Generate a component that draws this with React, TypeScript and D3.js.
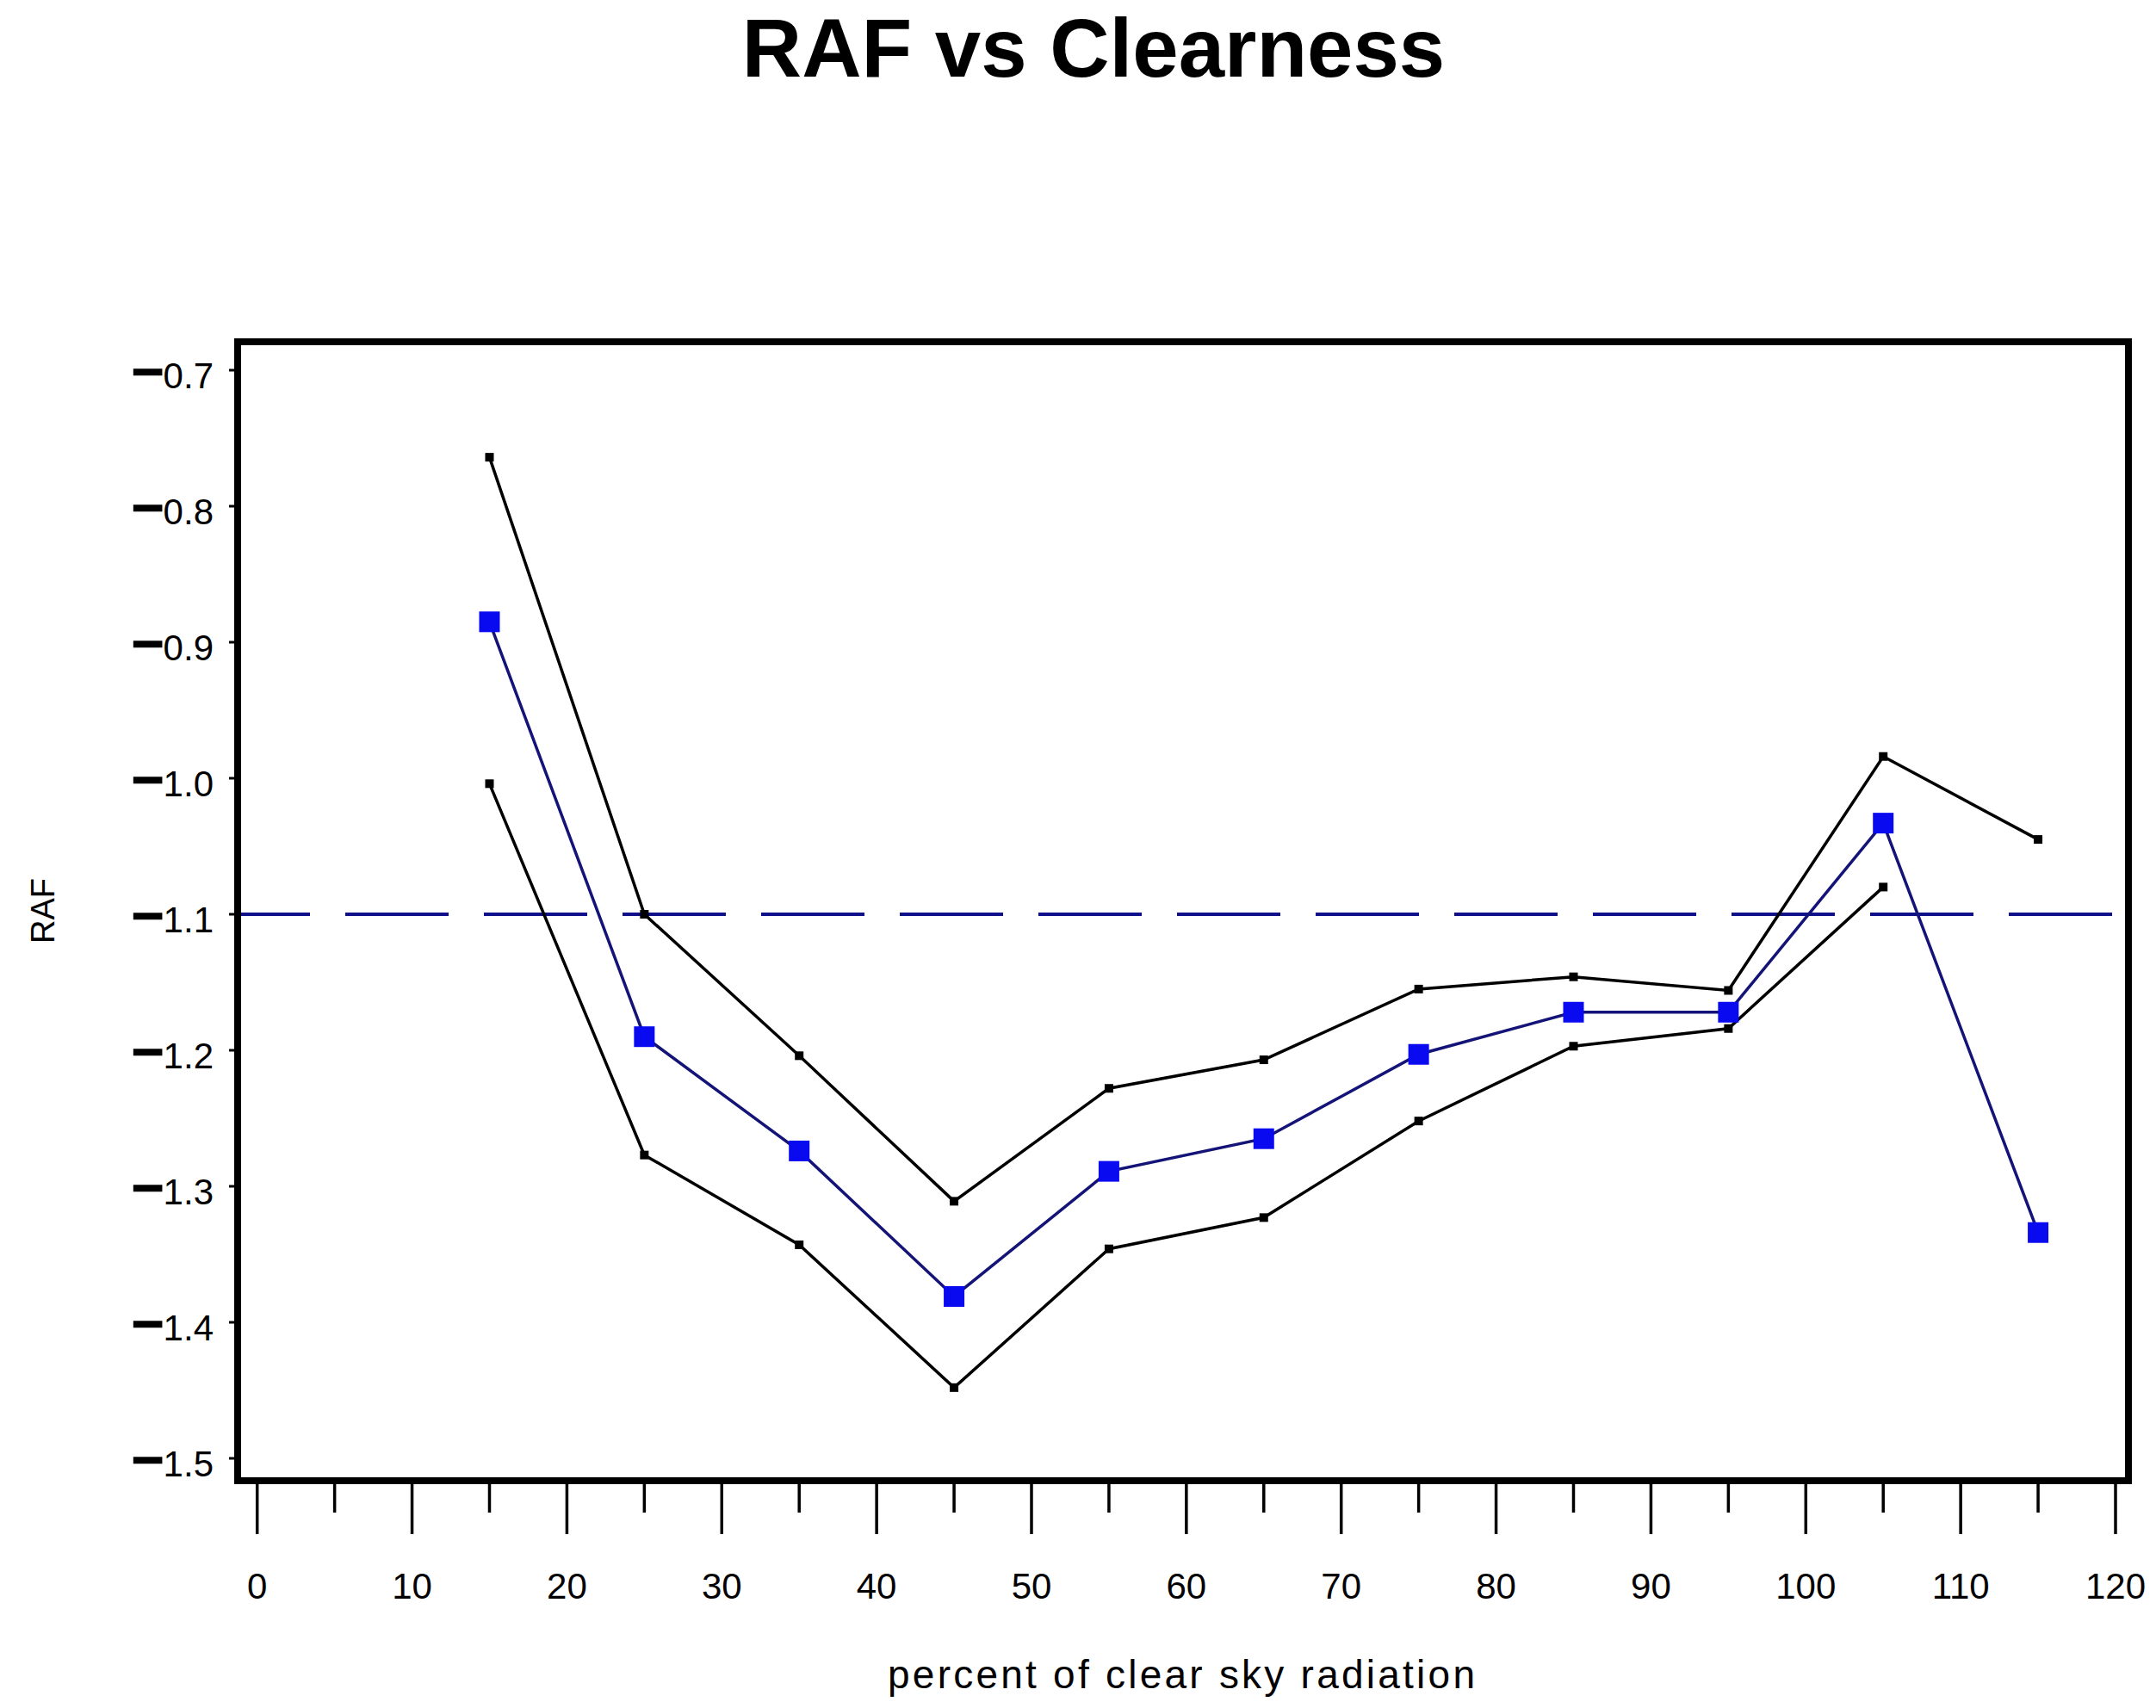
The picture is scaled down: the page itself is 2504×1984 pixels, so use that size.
import React from "react";
import * as d3 from "d3";

const xValues = [15, 25, 35, 45, 55, 65, 75, 85, 95, 105, 115];
const meanRAF = [-0.885, -1.19, -1.274, -1.381, -1.289, -1.265, -1.203, -1.172, -1.172, -1.033, -1.334];
const upperRAF = [-0.764, -1.1, -1.204, -1.311, -1.228, -1.207, -1.155, -1.146, -1.156, -0.984, -1.045];
const lowerRAF: (number | null)[] = [-1.004, -1.277, -1.343, -1.448, -1.346, -1.323, -1.252, -1.197, -1.184, -1.08, null];
const xMajorTicks = [0, 10, 20, 30, 40, 50, 60, 70, 80, 90, 100, 110, 120];
const xMinorTicks = [5, 15, 25, 35, 45, 55, 65, 75, 85, 95, 105, 115];
const yTicks = [-0.7, -0.8, -0.9, -1.0, -1.1, -1.2, -1.3, -1.4, -1.5];
const referenceLevel = -1.1;
const titleText = "RAF vs Clearness";
const xTitle = "percent of clear sky radiation";
const yTitle = "RAF";

const W = 2504;
const H = 1984;
const frame = { left: 276, right: 2472, top: 397, bottom: 1720 };
const FONT = "'Liberation Sans', Arial, Helvetica, sans-serif";

export default function App() {
  const x = d3.scaleLinear().domain([0, 120]).range([298.7, 2457]);
  const y = d3.scaleLinear().domain([-1.5, -0.7]).range([1694, 430]);

  type P = [number, number | null];
  const line = d3
    .line<P>()
    .defined((d) => d[1] !== null)
    .x((d) => x(d[0]))
    .y((d) => y(d[1] as number));

  const meanPts: P[] = xValues.map((v, i) => [v, meanRAF[i]]);
  const upPts: P[] = xValues.map((v, i) => [v, upperRAF[i]]);
  const loPts: P[] = xValues.map((v, i) => [v, lowerRAF[i]]);
  const fmt = d3.format(".1f");

  const blueSq = 24;
  const blackSq = 10;

  return (
    <div style={{ position: "absolute", left: 0, top: 0 }}>
      <svg width={W} height={H} style={{ display: "block", background: "#fff" }}>
        <rect x={0} y={0} width={W} height={H} fill="#fff" />
        {/* title */}
        <text x={1270} y={89} textAnchor="middle" fontFamily={FONT} fontWeight="bold" fontSize={96} fill="#000">
          {titleText}
        </text>

        {/* reference dashed line */}
        <line
          x1={frame.left}
          x2={frame.right}
          y1={y(referenceLevel)}
          y2={y(referenceLevel)}
          stroke="#10108a"
          strokeWidth={4}
          strokeDasharray="120 41"
          strokeDashoffset={36}
        />

        {/* band lines */}
        <path d={line(upPts) || ""} fill="none" stroke="#000" strokeWidth={3.5} />
        <path d={line(loPts) || ""} fill="none" stroke="#000" strokeWidth={3.5} />
        <path d={line(meanPts) || ""} fill="none" stroke="#141478" strokeWidth={3.5} />

        {upPts.map((d, i) => (
          <rect key={"u" + i} x={x(d[0]) - blackSq / 2} y={y(d[1] as number) - blackSq / 2} width={blackSq} height={blackSq} fill="#000" />
        ))}
        {loPts
          .filter((d) => d[1] !== null)
          .map((d, i) => (
            <rect key={"l" + i} x={x(d[0]) - blackSq / 2} y={y(d[1] as number) - blackSq / 2} width={blackSq} height={blackSq} fill="#000" />
          ))}
        {meanPts.map((d, i) => (
          <rect key={"m" + i} x={x(d[0]) - blueSq / 2} y={y(d[1] as number) - blueSq / 2} width={blueSq} height={blueSq} fill="#0a0af0" />
        ))}

        {/* frame */}
        <rect
          x={frame.left}
          y={frame.top}
          width={frame.right - frame.left}
          height={frame.bottom - frame.top}
          fill="none"
          stroke="#000"
          strokeWidth={8}
        />

        {/* y ticks */}
        {yTicks.map((t) => {
          const s = fmt(t);
          const neg = s.startsWith("−") || s.startsWith("-");
          const body = neg ? s.slice(1) : s;
          return (
            <g key={"y" + t}>
              <line x1={frame.left - 10} x2={frame.left} y1={y(t)} y2={y(t)} stroke="#000" strokeWidth={3} />
              <text x={248} y={y(t) + 21} textAnchor="end" fontFamily={FONT} fontSize={42} fill="#000">
                {neg ? (
                  <tspan fontSize={62} stroke="#000" strokeWidth={3.5} dy={2}>
                    −
                  </tspan>
                ) : null}
                <tspan dy={neg ? -2 : 0}>{body}</tspan>
              </text>
            </g>
          );
        })}

        {/* x ticks */}
        {xMajorTicks.map((t) => (
          <g key={"x" + t}>
            <line x1={x(t)} x2={x(t)} y1={frame.bottom + 4} y2={1782} stroke="#000" strokeWidth={3.5} />
            <text x={x(t)} y={1857} textAnchor="middle" fontFamily={FONT} fontSize={42} fill="#000">
              {t}
            </text>
          </g>
        ))}
        {xMinorTicks.map((t) => (
          <line key={"xm" + t} x1={x(t)} x2={x(t)} y1={frame.bottom + 4} y2={1757} stroke="#000" strokeWidth={3.5} />
        ))}

        {/* axis titles */}
        <text
          x={1372}
          y={1961}
          textAnchor="middle"
          fontFamily={FONT}
          fontSize={46}
          fill="#000"
          textLength={682}
          lengthAdjust="spacing"
        >
          {xTitle}
        </text>
        <text
          transform={`translate(63, 1058) rotate(-90)`}
          textAnchor="middle"
          fontFamily={FONT}
          fontSize={38}
          fill="#000"
        >
          {yTitle}
        </text>
      </svg>
    </div>
  );
}
